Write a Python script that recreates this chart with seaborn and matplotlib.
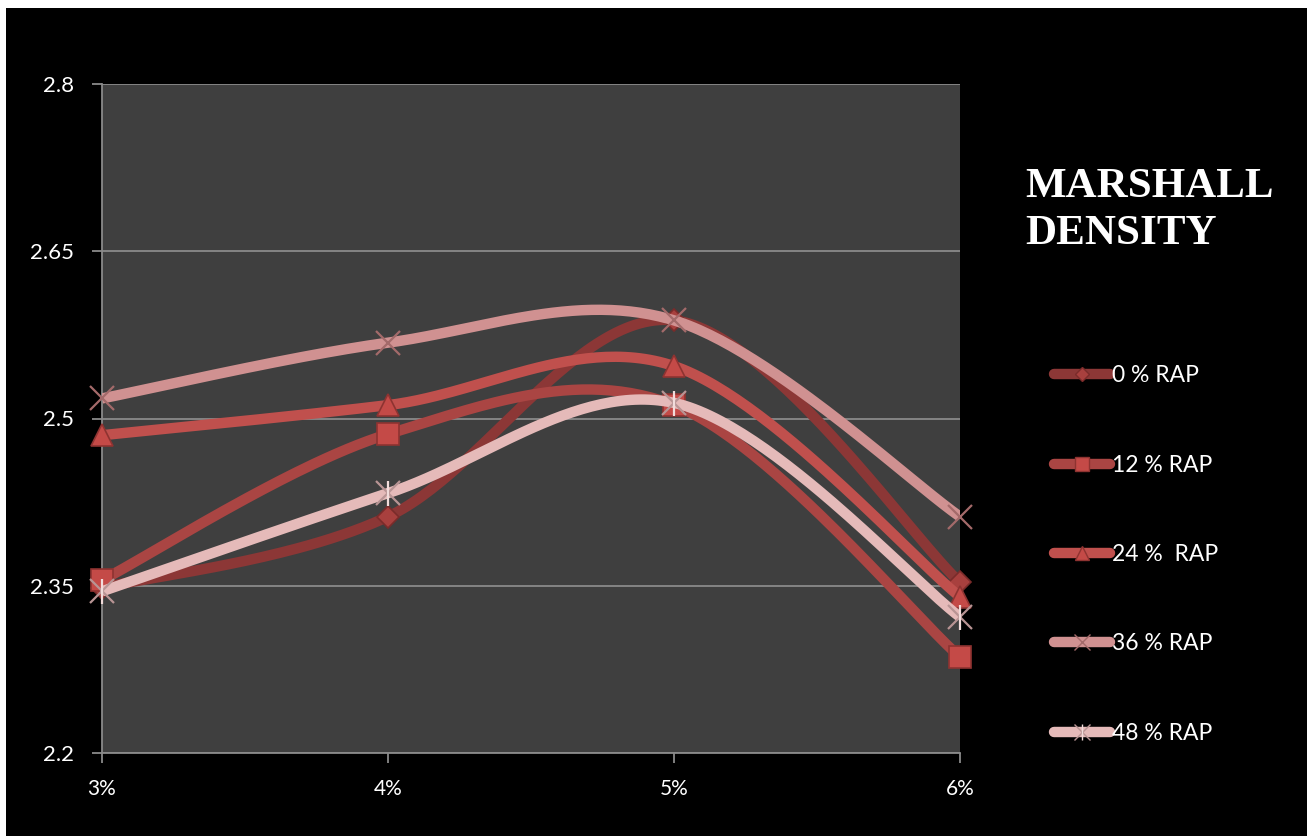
import numpy as np
import pandas as pd
import matplotlib
matplotlib.use("Agg")
import matplotlib.pyplot as plt
import seaborn as sns
from matplotlib.lines import Line2D
from matplotlib.legend_handler import HandlerTuple
from matplotlib.patches import Rectangle

# Binder content (%) on the x axis
binder = [3, 4, 5, 6]
binder_labels = ["3%", "4%", "5%", "6%"]

# Marshall density for each RAP content
rap_0 = [2.348, 2.412, 2.588, 2.353]
rap_12 = [2.355, 2.486, 2.512, 2.286]
rap_24 = [2.485, 2.512, 2.547, 2.340]
rap_36 = [2.518, 2.568, 2.588, 2.412]
rap_48 = [2.345, 2.433, 2.514, 2.322]

series_names = ["0 % RAP", "12 % RAP", "24 %  RAP", "36 % RAP", "48 % RAP"]
series_values = [rap_0, rap_12, rap_24, rap_36, rap_48]

y_ticks = [2.2, 2.35, 2.5, 2.65, 2.8]
y_tick_labels = ["2.2", "2.35", "2.5", "2.65", "2.8"]

line_colors = ["#8C3736", "#AA4543", "#C0504D", "#D09191", "#E5BAB9"]
marker_face = ["#A8403E", "#C44A47", "#C44A47", "none", "none"]
marker_edge = ["#7A2B2A", "#8E3331", "#8E3331", "#A46A6A", "#B89494"]
markers = ["D", "s", "^", "x", "x"]
marker_sizes = [11, 16, 16, 17, 17]


def smooth_curve(xs, ys, n=60):
    """Cardinal (Catmull-Rom) Bezier smoothing between successive points."""
    xs = np.asarray(xs, float)
    ys = np.asarray(ys, float)
    px = np.concatenate([[xs[0]], xs, [xs[-1]]])
    py = np.concatenate([[ys[0]], ys, [ys[-1]]])
    out_x, out_y = [], []
    t = np.linspace(0, 1, n)
    for i in range(1, len(px) - 2):
        p0 = np.array([px[i], py[i]])
        p3 = np.array([px[i + 1], py[i + 1]])
        c1 = p0 + (np.array([px[i + 1], py[i + 1]]) - np.array([px[i - 1], py[i - 1]])) / 6
        c2 = p3 - (np.array([px[i + 2], py[i + 2]]) - np.array([px[i], py[i]])) / 6
        b = ((1 - t) ** 3)[:, None] * p0 + (3 * (1 - t) ** 2 * t)[:, None] * c1 \
            + (3 * (1 - t) * t ** 2)[:, None] * c2 + (t ** 3)[:, None] * p3
        if i > 1:
            b = b[1:]
        out_x.extend(b[:, 0])
        out_y.extend(b[:, 1])
    return np.array(out_x), np.array(out_y)


sns.set_theme(style="dark")
plt.rcParams["font.family"] = ["Lato", "DejaVu Sans"]

fig = plt.figure(figsize=(13.07, 8.36), dpi=100, facecolor="white")
# black slide background
fig.patches.append(Rectangle((6 / 1307, 0), 1 - 6 / 1307, 1 - 8 / 836,
                             transform=fig.transFigure, facecolor="black",
                             edgecolor="none", zorder=-10))

ax = fig.add_axes([102 / 1307, 83 / 836, 858 / 1307, 669 / 836])
ax.set_zorder(1)
ax.set_facecolor("#3F3F3F")

for k, (name, vals) in enumerate(zip(series_names, series_values)):
    cx, cy = smooth_curve(binder, vals)
    curve = pd.DataFrame({"binder": cx, "density": cy})
    sns.lineplot(data=curve, x="binder", y="density", ax=ax, color=line_colors[k],
                 linewidth=7.5, sort=False, estimator=None, zorder=3 + k,
                 solid_capstyle="butt")
    pts = pd.DataFrame({"binder": binder, "density": vals})
    if markers[k] == "x":
        ax.plot(pts["binder"], pts["density"], linestyle="none", marker="x",
                markersize=marker_sizes[k], markeredgewidth=1.6,
                markeredgecolor=marker_edge[k], zorder=3.5 + k, clip_on=False)
        if k == 4:
            ax.plot(pts["binder"], pts["density"], linestyle="none", marker="|",
                    markersize=marker_sizes[k] + 1, markeredgewidth=1.6,
                    markeredgecolor="#F2DCDB", zorder=3.6 + k, clip_on=False)
    else:
        ax.plot(pts["binder"], pts["density"], linestyle="none", marker=markers[k],
                markersize=marker_sizes[k], markerfacecolor=marker_face[k],
                markeredgecolor=marker_edge[k], markeredgewidth=1.2,
                zorder=3.5 + k, clip_on=False)

ax.set_xlim(3, 6)
ax.set_ylim(2.2, 2.8)
ax.set_xticks(binder)
ax.set_xticklabels(binder_labels)
ax.set_yticks(y_ticks)
ax.set_yticklabels(y_tick_labels)
ax.set_xlabel("")
ax.set_ylabel("")

ax.grid(axis="y", color="#8A8A8A", linewidth=1.3)
ax.grid(axis="x", visible=False)
for side in ["top", "right"]:
    ax.spines[side].set_visible(False)
for side in ["left", "bottom"]:
    ax.spines[side].set_visible(True)
    ax.spines[side].set_color("#8A8A8A")
    ax.spines[side].set_linewidth(1.3)
ax.tick_params(axis="both", which="major", direction="out", length=7, width=1.3,
               color="#8A8A8A", labelcolor="white")
ax.tick_params(axis="y", pad=13, left=True, labelsize=16)
ax.tick_params(axis="x", pad=12, bottom=True, labelsize=15)

fig.text(1025 / 1307, 1 - 168 / 836, "MARSHALL\nDENSITY", ha="left", va="top",
         color="white", fontsize=31, fontweight="bold", family="Liberation Serif",
         linespacing=1.32)

handles = []
for k in range(5):
    base = Line2D([], [], color=line_colors[k], linewidth=7.5, solid_capstyle="round",
                  marker=markers[k], markersize=marker_sizes[k] * 0.65,
                  markerfacecolor=marker_face[k], markeredgecolor=marker_edge[k],
                  markeredgewidth=1.0)
    if k == 4:
        bar = Line2D([], [], linestyle="none", marker="|", markersize=marker_sizes[k] * 0.65,
                     markeredgecolor="#F2DCDB", markeredgewidth=1.0)
        handles.append((base, bar))
    else:
        handles.append(base)

leg = fig.legend(handles, series_names, loc="upper left",
                 bbox_to_anchor=(1043 / 1307, 1 - 354 / 836), frameon=False,
                 fontsize=16.5, labelcolor="white", handlelength=2.43, handletextpad=0.08,
                 labelspacing=2.98, borderpad=0, numpoints=1,
                 handler_map={tuple: HandlerTuple(ndivide=1)})

fig.savefig("out.png", dpi=100, facecolor=fig.get_facecolor())
